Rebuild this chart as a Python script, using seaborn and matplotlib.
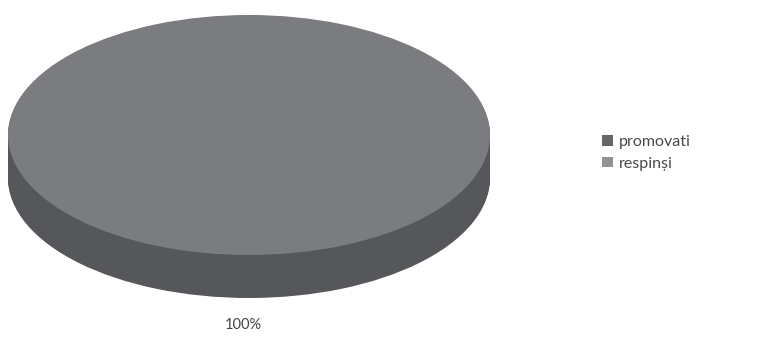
import matplotlib
matplotlib.use("Agg")
import matplotlib.pyplot as plt
import seaborn as sns
from matplotlib.patches import Patch

sns.set_style("white")
plt.rcParams['font.family'] = ['Lato', 'DejaVu Sans']

categories = ["promovati", "respinși"]
values = [100, 0]
top_colors = ["#7b7c80", "#8e8e8e"]
side_colors = ["#56575a", "#6a6a6a"]
legend_colors = ["#666666", "#939393"]

fig = plt.figure(figsize=(7.79, 3.37), dpi=100)
# axes covers the ellipse of the top face
W, H = 779, 337
ax = fig.add_axes([8 / W, 1 - 255 / H, 482 / W, 240 / H])
ax.axis("off")

depth = 43 / 120.0
steps = 40
for i in range(steps, 0, -1):
    ax.pie(values, colors=side_colors, radius=1, center=(0, -depth * i / steps),
           startangle=90, counterclock=False, frame=False,
           wedgeprops=dict(linewidth=0))
ax.pie(values, colors=top_colors, radius=1, center=(0, 0),
       startangle=90, counterclock=False, frame=False,
       wedgeprops=dict(linewidth=0))
ax.set_xlim(-1, 1)
ax.set_ylim(-1, 1)
ax.set_aspect("auto")

total = sum(values)
pct = f"{values[0] / total * 100:.0f}%"
fig.text(243 / W, 1 - 325 / H, pct, ha="center", va="center",
         fontsize=10.5, color="#444444")

handles = [Patch(facecolor=c, edgecolor="none") for c in legend_colors]
fig.legend(handles, categories, loc="center left",
           bbox_to_anchor=(588 / W, 1 - 153 / H), frameon=False,
           fontsize=11.5, handlelength=0.65, handleheight=0.65,
           handletextpad=0.4, labelspacing=0.45, labelcolor="#4a4a4a")

fig.savefig("out.png", dpi=100)
